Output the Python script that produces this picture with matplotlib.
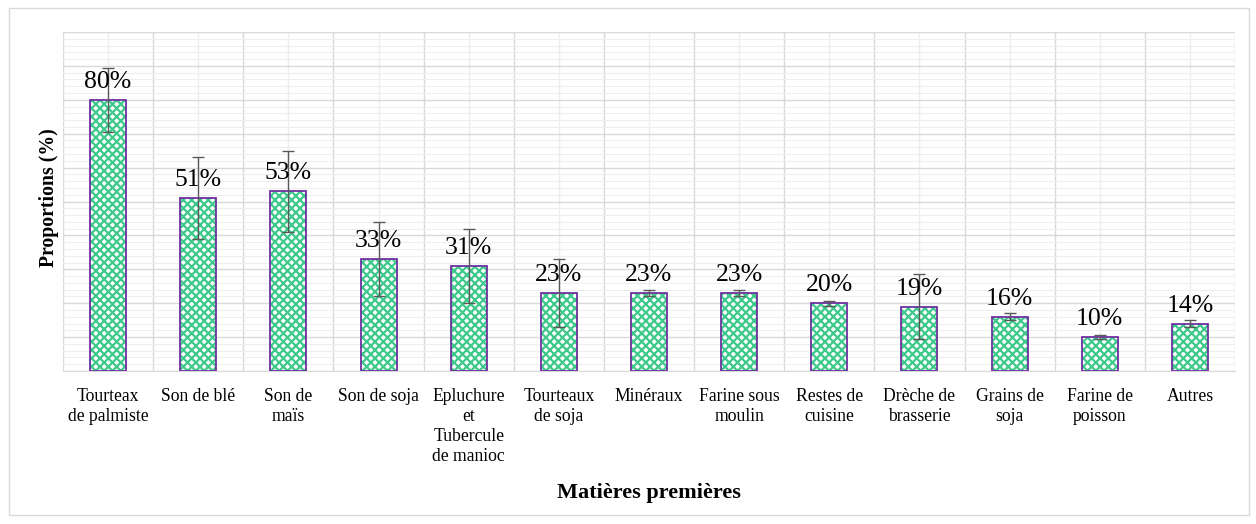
import matplotlib
matplotlib.use("Agg")
import matplotlib.pyplot as plt
import numpy as np
from matplotlib.patches import Rectangle

# data
categories = ["Tourteax\nde palmiste", "Son de blé", "Son de\nmaïs", "Son de soja",
              "Epluchure\net\nTubercule\nde manioc", "Tourteaux\nde soja", "Minéraux",
              "Farine sous\nmoulin", "Restes de\ncuisine", "Drèche de\nbrasserie",
              "Grains de\nsoja", "Farine de\npoisson", "Autres"]
values = [80, 51, 53, 33, 31, 23, 23, 23, 20, 19, 16, 10, 14]
errors = [9.5, 12, 12, 11, 11, 10, 1, 1, 0.7, 9.5, 1, 0.7, 1]
labels = ["80%", "51%", "53%", "33%", "31%", "23%", "23%", "23%", "20%", "19%", "16%", "10%", "14%"]

plt.rcParams['font.family'] = ['Liberation Serif', 'DejaVu Serif']
plt.rcParams['hatch.linewidth'] = 1.6

fig = plt.figure(figsize=(12.56, 5.24), dpi=100)
ax = fig.add_axes([63 / 1256, 1 - 371 / 524, (1235 - 63) / 1256, (371 - 32) / 524])

# outer frame of the chart
fig.patches.append(Rectangle((9 / 1256, 1 - 515 / 524), 1240 / 1256, 507 / 524,
                             transform=fig.transFigure, fill=False,
                             edgecolor='#d9d9d9', linewidth=1))

x = np.arange(len(categories))
# green hatch first, purple outline on top
ax.bar(x, values, width=0.4, color='white', edgecolor='#3cc98a', linewidth=0,
       hatch='xxxx', zorder=3)
ax.bar(x, values, width=0.4, fill=False, edgecolor='#7030a0', linewidth=1.3, zorder=3)
ax.errorbar(x, values, yerr=errors, fmt='none', ecolor='#595959', elinewidth=1,
            capsize=4, capthick=1, zorder=4)

for xi, v, lab in zip(x, values, labels):
    ax.annotate(lab, (xi, v), xytext=(0, 5), textcoords='offset points',
                ha='center', va='bottom', fontsize=18.5, zorder=5)

ax.set_xlim(-0.5, len(categories) - 0.5)
ax.set_ylim(0, 100)

# grid: major every 10 %, minor every 2 %, verticals at boundaries and centres
ax.set_yticks(np.arange(0, 101, 10))
ax.set_yticks(np.arange(0, 101, 2), minor=True)
ax.set_xticks(x)
ax.set_xticks(np.arange(-0.5, len(categories), 1), minor=True)
ax.grid(which='major', axis='y', color='#d9d9d9', linewidth=1, zorder=0)
ax.grid(which='minor', axis='y', color='#eeeeee', linewidth=0.8, zorder=0)
ax.grid(which='minor', axis='x', color='#d9d9d9', linewidth=1, zorder=0)
ax.grid(which='major', axis='x', color='#eeeeee', linewidth=1, zorder=0)
ax.set_axisbelow(True)

ax.set_yticklabels([])
ax.tick_params(axis='y', which='both', length=0)
ax.tick_params(axis='x', which='both', length=0, pad=12)
ax.set_xticklabels(categories, fontsize=12.7, linespacing=1.25, va='top')

for s in ax.spines.values():
    s.set_visible(False)
ax.spines['bottom'].set_visible(True)
ax.spines['bottom'].set_color('#d9d9d9')

ax.set_ylabel("Proportions (%)", fontsize=14.2, fontweight='bold')
ax.yaxis.set_label_coords(-4 / 1172, 0.51)
ax.text(0.5, -(493 - 371) / 339, "Matières premières", transform=ax.transAxes,
        ha='center', va='center', fontsize=16, fontweight='bold')

fig.savefig("out.png", dpi=100, facecolor='white')
